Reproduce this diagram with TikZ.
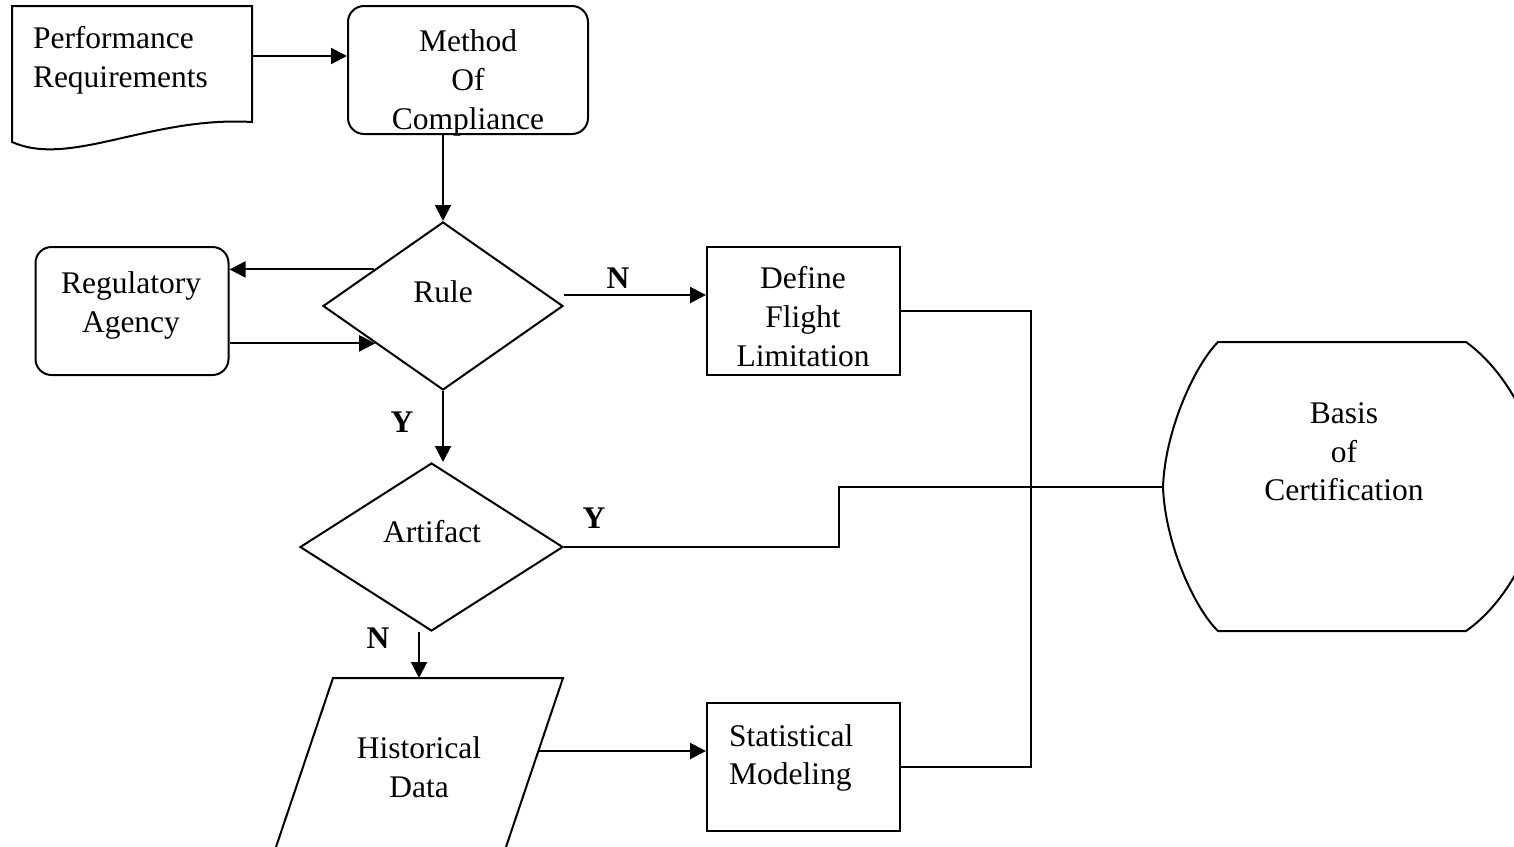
\documentclass[tikz,border=0pt]{standalone}
\usepackage{fontspec}
\setmainfont{Liberation Serif}
\usetikzlibrary{arrows.meta,shapes.geometric,calc}
\begin{document}
\begin{tikzpicture}[x=1pt,y=-1pt,line width=2pt,
  proc/.style={draw, rectangle, inner sep=0pt, minimum width=193pt, minimum height=128pt},
  rproc/.style={proc, rounded corners=16pt},
  decision/.style={draw, diamond, inner sep=0pt},
  txt/.style={font=\fontsize{31.5}{39}\selectfont, inner sep=0pt, anchor=base},
  flag/.style={txt, font=\fontsize{31.5}{39}\selectfont\bfseries},
  arr/.style={-{Triangle[length=16pt,width=16pt]}}]
\useasboundingbox (0,0) rectangle (1514,846);
\clip (0,0) rectangle (1514,846);

% document shape with wavy bottom
\draw (12,6) -- (252,6) -- (252,122) .. controls (150,116) and (70,168) .. (12,142) -- cycle;
\coordinate (perfE) at (252,56);
\node[txt, anchor=base west] (perf1) at (32,48) {Performance};
\node[txt, anchor=base west] (perf2) at (32,87) {Requirements};

% process boxes
\node[rproc, minimum width=240pt] (moc) at (468,70) {};
\node[rproc] (reg) at (132,311) {};
\node[proc] (define) at (803.5,310.5) {};
\node[proc] (stat) at (803.5,767) {};

% decisions
\node[decision, minimum width=240pt, minimum height=168pt] (rule) at (443,306) {};
\node[decision, minimum width=263pt, minimum height=168pt] (art) at (431.5,547) {};

% data (parallelogram)
\draw (333,678) -- (563,678) -- (478,930) -- (248,930) -- cycle;
\coordinate (histTop) at (419,678);
\coordinate (histR) at (538,751);

% terminal: Basis of Certification
\draw (1218,342) -- (1466,342)
  .. controls (1505,370) and (1540,430) .. (1540,487)
  .. controls (1540,544) and (1505,604) .. (1466,631)
  -- (1218,631)
  .. controls (1195,609) and (1165,544) .. (1163,487)
  .. controls (1165,430) and (1195,365) .. (1218,342) -- cycle;
\coordinate (basisW) at (1163,487);

% texts
\node[txt] (m1) at (468,51) {Method};
\node[txt] (m2) at (468,90) {Of};
\node[txt] (m3) at (468,129) {Compliance};
\node[txt] (r1) at (131,293) {Regulatory};
\node[txt] (r2) at (131,332) {Agency};
\node[txt] (ru) at (443,302) {Rule};
\node[txt] (d1) at (803,288) {Define};
\node[txt] (d2) at (803,327) {Flight};
\node[txt] (d3) at (803,366) {Limitation};
\node[txt] (a1) at (432,542) {Artifact};
\node[txt] (h1) at (419,758) {Historical};
\node[txt] (h2) at (419,797) {Data};
\node[txt, anchor=base west] (s1) at (728,746) {Statistical};
\node[txt, anchor=base west] (s2) at (728,784) {Modeling};
\node[txt] (b1) at (1344,423) {Basis};
\node[txt] (b2) at (1344,462) {of};
\node[txt] (b3) at (1344,500) {Certification};

% connectors
\draw[arr] (perfE) -- (perfE -| moc.west);
\draw[arr] (moc.south -| rule.north) -- (rule.north);
\coordinate (ruleUL) at ($(rule.west)!0.43!(rule.north)$);
\coordinate (ruleLL) at ($(rule.west)!0.44!(rule.south)$);
\draw[arr] (ruleUL) -- (ruleUL -| reg.east);
\draw[arr] (ruleLL -| reg.east) -- (ruleLL);
\coordinate (ruleN) at ($(rule.east)+(0,-11)$);
\draw[arr] (ruleN) -- (ruleN -| define.west);
\node[flag] (lblN1) at (618,288) {N};
\draw[arr] (rule.south) -- (rule.south |- art.north);
\node[flag] (lblY1) at (402,432) {Y};
\coordinate (jog) at (839,487);
\draw (art.east) -| (jog) -- (basisW);
\node[flag] (lblY2) at (594,528) {Y};
\coordinate (artN) at ($(art.south)+(-12.5,0)$);
\draw[arr] (artN) -- (artN |- histTop);
\node[flag] (lblN2) at (378,648) {N};
\draw[arr] (histR) -- (histR -| stat.west);
\coordinate (bus) at (1031,487);
\draw (define.east) -| (bus) |- (stat.east);
\end{tikzpicture}
\end{document}
